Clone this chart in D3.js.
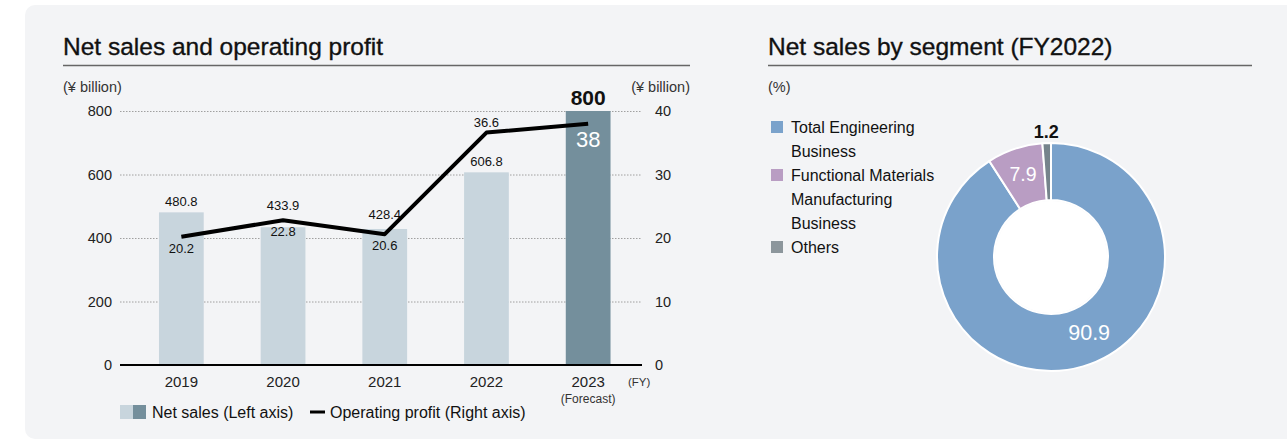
<!DOCTYPE html>
<html>
<head>
<meta charset="utf-8">
<script src="https://cdn.jsdelivr.net/npm/d3@7"></script>
<style>
  body { margin: 0; background: #fff; }
  svg { display: block; font-family: "Liberation Sans", Arial, sans-serif; }
</style>
</head>
<body>
<div id="chart"></div>
<script>
// data
const years = ["2019", "2020", "2021", "2022", "2023"];
const netSales = [480.8, 433.9, 428.4, 606.8, 800];
const opProfit = [20.2, 22.8, 20.6, 36.6, 38];
const profitLabelSide = ["below", "below", "below", "above", "below"];
const salesTicks = [0, 200, 400, 600, 800];
const profitTicks = [0, 10, 20, 30, 40];

const segments = ["Total Engineering Business", "Functional Materials Manufacturing Business", "Others"];
const segmentLines = [["Total Engineering", "Business"], ["Functional Materials", "Manufacturing", "Business"], ["Others"]];
const segmentShare = [90.9, 7.9, 1.2];
const segmentColors = ["#7aa2cb", "#b99dc3", "#76848c"];
const legendColors = ["#7aa2cb", "#b99dc3", "#8c969c"];

const W = 1287, H = 440;
const svg = d3.select("#chart").append("svg")
    .attr("width", W).attr("height", H);

// panel
svg.append("rect")
    .attr("x", 25).attr("y", 5)
    .attr("width", 1290).attr("height", 434)
    .attr("rx", 10)
    .attr("fill", "#f3f4f6");

// ---------- left: bars + line ----------
const left = svg.append("g");

left.append("text")
    .attr("x", 63).attr("y", 55)
    .attr("font-size", 24.5)
    .attr("fill", "#111").attr("stroke", "#111").attr("stroke-width", 0.35)
    .text("Net sales and operating profit");
left.append("line")
    .attr("x1", 63).attr("x2", 690).attr("y1", 65.5).attr("y2", 65.5)
    .attr("stroke", "#666").attr("stroke-width", 1.5);

let x = d3.scaleBand().domain(years).range([130.5, 639]).paddingInner(0.56).paddingOuter(0.28);
let yL = d3.scaleLinear().domain([0, 800]).range([365, 111]);
let yR = d3.scaleLinear().domain([0, 40]).range([365, 111]);

left.append("text").attr("x", 63).attr("y", 92).attr("font-size", 14.5).attr("fill", "#333").text("(¥ billion)");
left.append("text").attr("x", 690).attr("y", 92).attr("text-anchor", "end").attr("font-size", 14.5).attr("fill", "#333").text("(¥ billion)");

// gridlines
left.append("g").selectAll("line")
    .data(salesTicks.filter(d => d > 0))
    .enter().append("line")
    .attr("x1", 120).attr("x2", 642)
    .attr("y1", d => yL(d) + 0.5).attr("y2", d => yL(d) + 0.5)
    .attr("stroke", "#8a8a8a").attr("stroke-width", 0.8)
    .attr("stroke-dasharray", "1.5,1.5");

// left axis
let axisL = left.append("g")
    .attr("transform", "translate(118,0)")
    .call(d3.axisLeft(yL).tickValues(salesTicks).tickSize(0).tickPadding(6));
axisL.select(".domain").remove();
axisL.selectAll("text").attr("font-size", 14.5).attr("fill", "#222").attr("font-family", "Liberation Sans, Arial, sans-serif");

// right axis
let axisR = left.append("g")
    .attr("transform", "translate(649,0)")
    .call(d3.axisRight(yR).tickValues(profitTicks).tickSize(0).tickPadding(6));
axisR.select(".domain").remove();
axisR.selectAll("text").attr("font-size", 14.5).attr("fill", "#222").attr("font-family", "Liberation Sans, Arial, sans-serif");

// bars
left.append("g").selectAll("rect")
    .data(years)
    .enter().append("rect")
    .attr("x", d => x(d))
    .attr("width", x.bandwidth())
    .attr("y", (d, i) => yL(netSales[i]))
    .attr("height", (d, i) => yL(0) - yL(netSales[i]))
    .attr("fill", (d, i) => i === years.length - 1 ? "#748f9c" : "#c8d5dd");

// baseline
left.append("line")
    .attr("x1", 120).attr("x2", 642).attr("y1", yL(0)).attr("y2", yL(0))
    .attr("stroke", "#000").attr("stroke-width", 2.2);

// year labels
left.append("g").selectAll("text")
    .data(years)
    .enter().append("text")
    .attr("x", d => x(d) + x.bandwidth() / 2)
    .attr("y", 387)
    .attr("text-anchor", "middle")
    .attr("font-size", 15).attr("fill", "#222")
    .text(d => d);
left.append("text").attr("x", x("2023") + x.bandwidth() / 2).attr("y", 403)
    .attr("text-anchor", "middle").attr("font-size", 12).attr("fill", "#333").text("(Forecast)");
left.append("text").attr("x", 628).attr("y", 386).attr("font-size", 11.5).attr("fill", "#333").text("(FY)");

// operating profit line
const line = d3.line()
    .x((d, i) => x(years[i]) + x.bandwidth() / 2)
    .y(d => yR(d));
left.append("path")
    .datum(opProfit)
    .attr("d", line)
    .attr("fill", "none")
    .attr("stroke", "#000")
    .attr("stroke-width", 4)
    .attr("stroke-linejoin", "round");

// sales labels
left.append("g").selectAll("text")
    .data(netSales)
    .enter().append("text")
    .attr("x", (d, i) => x(years[i]) + x.bandwidth() / 2)
    .attr("y", (d, i) => {
        let barTop = yL(d), lineY = yR(opProfit[i]);
        if (i === years.length - 1) return barTop - 6;
        if (Math.abs(lineY - barTop) < 20) return Math.min(barTop, lineY) - 10;
        return barTop - 6;
    })
    .attr("text-anchor", "middle")
    .attr("font-size", (d, i) => i === years.length - 1 ? 21 : 13)
    .attr("font-weight", (d, i) => i === years.length - 1 ? "bold" : "normal")
    .attr("fill", "#111")
    .text(d => d % 1 === 0 ? d : d.toFixed(1));

// profit labels
left.append("g").selectAll("text")
    .data(opProfit)
    .enter().append("text")
    .attr("x", (d, i) => x(years[i]) + x.bandwidth() / 2)
    .attr("y", (d, i) => {
        if (i === years.length - 1) return yR(d) + 23;
        return profitLabelSide[i] === "above" ? yR(d) - 6 : yR(d) + 16;
    })
    .attr("text-anchor", "middle")
    .attr("font-size", (d, i) => i === years.length - 1 ? 22 : 13)
    .attr("fill", (d, i) => i === years.length - 1 ? "#fff" : "#111")
    .text(d => d % 1 === 0 ? d : d.toFixed(1));

// legend
left.append("rect").attr("x", 120).attr("y", 405).attr("width", 13).attr("height", 14).attr("fill", "#c8d5dd");
left.append("rect").attr("x", 133).attr("y", 405).attr("width", 13).attr("height", 14).attr("fill", "#748f9c");
left.append("text").attr("x", 152).attr("y", 418).attr("font-size", 16).attr("fill", "#111").text("Net sales (Left axis)");
left.append("line").attr("x1", 310).attr("x2", 325).attr("y1", 412).attr("y2", 412)
    .attr("stroke", "#000").attr("stroke-width", 3);
left.append("text").attr("x", 330).attr("y", 418).attr("font-size", 16).attr("fill", "#111").text("Operating profit (Right axis)");

// ---------- right: donut ----------
const right = svg.append("g");

right.append("text")
    .attr("x", 768).attr("y", 55)
    .attr("font-size", 24.5)
    .attr("fill", "#111").attr("stroke", "#111").attr("stroke-width", 0.35)
    .text("Net sales by segment (FY2022)");
right.append("line")
    .attr("x1", 768).attr("x2", 1252).attr("y1", 65.5).attr("y2", 65.5)
    .attr("stroke", "#666").attr("stroke-width", 1.5);
right.append("text").attr("x", 768).attr("y", 92).attr("font-size", 14.5).attr("fill", "#333").text("(%)");

// legend
let lineY = 133;
segmentLines.forEach((lines, i) => {
    right.append("rect")
        .attr("x", 771).attr("y", lineY - 12)
        .attr("width", 12).attr("height", 12)
        .attr("fill", legendColors[i]);
    lines.forEach(t => {
        right.append("text")
            .attr("x", 791).attr("y", lineY)
            .attr("font-size", 16).attr("fill", "#111")
            .text(t);
        lineY += 24;
    });
});

const cx = 1051, cy = 257;
const pie = d3.pie().sort(null).value(d => d);
const arcs = pie(segmentShare);
const arc = d3.arc().innerRadius(57).outerRadius(114);

let donut = right.append("g").attr("transform", `translate(${cx},${cy})`);
donut.selectAll("path")
    .data(arcs)
    .enter().append("path")
    .attr("d", arc)
    .attr("fill", (d, i) => segmentColors[i])
    .attr("stroke", "#fff")
    .attr("stroke-width", 2);
donut.append("circle").attr("r", 56).attr("fill", "#fff");

// labels
const labelArc = [
    d3.arc().innerRadius(84).outerRadius(84),
    d3.arc().innerRadius(88).outerRadius(88),
    d3.arc().innerRadius(126).outerRadius(126)
];
donut.selectAll("text")
    .data(arcs)
    .enter().append("text")
    .attr("transform", (d, i) => {
        let a = i === 0 ? { startAngle: d.startAngle, endAngle: d.startAngle + (d.endAngle - d.startAngle) * 0.935 } : d;
        let c = labelArc[i].centroid(a);
        return `translate(${c[0]},${c[1]})`;
    })
    .attr("dy", "0.36em")
    .attr("text-anchor", "middle")
    .attr("font-size", (d, i) => i === 0 ? 21.5 : (i === 1 ? 19.5 : 18))
    .attr("font-weight", (d, i) => i === 2 ? "bold" : "normal")
    .attr("fill", (d, i) => i === 2 ? "#111" : "#fff")
    .text(d => d.data.toFixed(1));
</script>
</body>
</html>
